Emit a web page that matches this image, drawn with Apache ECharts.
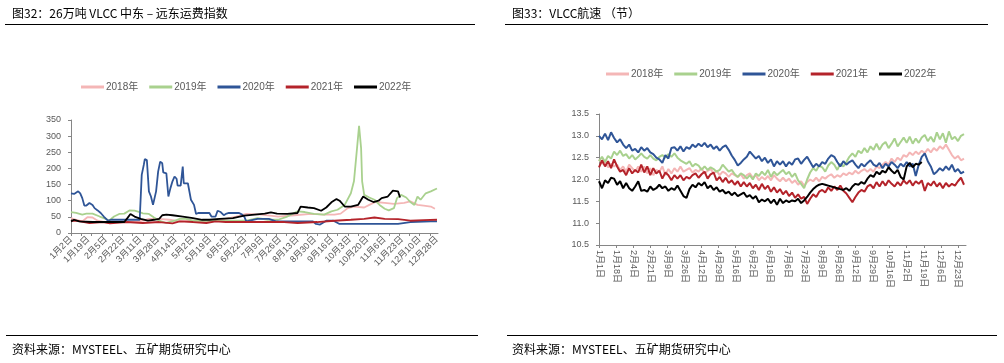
<!DOCTYPE html>
<html><head><meta charset="utf-8">
<script src="https://cdn.jsdelivr.net/npm/echarts/dist/echarts.min.js"></script>
<style>html,body{margin:0;padding:0;background:#fff}#c{width:1004px;height:363px}</style>
</head><body><div id="c"></div>
<script>
const YEARS = ['2018年','2019年','2020年','2021年','2022年'];
const COLORS = ['#F4B6B6','#A9D18E','#2F5597','#B4232A','#000000'];

// Left chart: day-of-year index -> freight index
const freightTickLabels = ['1月2日','1月19日','2月5日','2月22日','3月11日','3月28日','4月14日','5月2日','5月19日','6月5日','6月22日','7月9日','7月26日','8月13日','8月30日','9月16日','10月3日','10月20日','11月6日','11月23日','12月10日','12月28日'];
const freight2018 = [[0,46],[5,41],[11,36],[16,49],[21,48],[26,38],[33,34],[63,34],[70,38],[76,44],[86,44],[96,41],[106,36],[119,38],[128,36],[138,38],[151,44],[161,51],[171,59],[186,57],[202,51],[218,55],[234,59],[247,57],[257,57],[263,60],[270,77],[276,82],[286,79],[291,87],[297,96],[306,93],[315,90],[325,93],[331,98],[338,87],[344,85],[351,82],[355,75]];
const freight2019 = [[0,65],[5,62],[11,57],[15,60],[21,60],[28,51],[34,44],[37,38],[42,51],[47,59],[52,60],[57,70],[62,69],[67,65],[70,61],[76,59],[81,48],[86,38],[93,31],[101,38],[106,44],[112,44],[119,38],[171,38],[182,46],[192,41],[202,41],[211,51],[221,67],[228,65],[237,59],[247,57],[254,67],[260,72],[267,87],[273,123],[276,160],[279,262],[281,332],[283,262],[284,160],[286,118],[291,110],[296,103],[301,87],[306,75],[310,70],[315,77],[318,108],[322,118],[327,110],[331,96],[335,87],[338,113],[341,103],[346,123],[351,129],[357,138]];
const freight2020 = [[0,123],[3,121],[7,129],[9,123],[11,108],[13,85],[15,85],[18,93],[21,87],[23,77],[26,70],[29,62],[32,51],[36,38],[39,41],[50,41],[67,41],[69,180],[71,211],[72,229],[74,226],[76,129],[78,113],[80,87],[83,129],[85,190],[87,221],[89,216],[90,188],[93,185],[95,113],[97,139],[99,160],[101,175],[103,168],[104,147],[107,147],[109,206],[110,154],[114,154],[115,149],[117,103],[120,87],[122,59],[124,62],[135,62],[137,51],[141,51],[143,69],[146,65],[149,55],[151,59],[154,62],[164,62],[167,57],[169,51],[171,36],[172,34],[182,44],[193,44],[200,36],[236,36],[239,28],[243,26],[249,38],[256,38],[262,28],[319,28],[331,34],[351,36],[357,36]];
const freight2021 = [[0,38],[5,38],[18,31],[31,34],[38,30],[54,34],[70,31],[86,34],[99,30],[106,36],[119,34],[132,31],[141,36],[151,34],[171,34],[208,34],[221,31],[240,34],[257,38],[273,41],[286,44],[296,48],[306,44],[319,43],[331,38],[344,40],[357,41]];
const freight2022 = [[0,36],[3,41],[8,36],[21,34],[37,34],[52,34],[55,46],[58,59],[62,51],[68,44],[75,38],[81,41],[86,44],[89,55],[93,57],[99,55],[109,51],[119,46],[128,41],[135,41],[145,44],[158,46],[169,54],[179,57],[189,60],[195,64],[201,60],[211,59],[221,62],[224,82],[231,79],[237,77],[244,69],[249,79],[254,95],[259,105],[262,100],[267,82],[273,82],[280,87],[285,113],[290,103],[295,96],[300,100],[303,108],[309,113],[314,131],[319,129],[321,110]];

// Right chart: VLCC speed (knots), sampled every SPEED_STEP days from 1月1日
const speedTickLabels = ['1月1日','1月18日','2月4日','2月21日','3月9日','3月26日','4月12日','4月29日','5月16日','6月2日','6月19日','7月6日','7月23日','8月9日','8月26日','9月12日','9月29日','10月16日','11月2日','11月19日','12月6日','12月23日'];
const SPEED_STEP = 3;
const speed2018 = [12.46,12.36,12.42,12.28,12.36,12.3,12.34,12.22,12.3,12.18,12.34,12.26,12.18,12.3,12.18,12.3,12.14,12.26,12.1,12.22,12.18,12.3,12.1,12.24,12.14,12.26,12.18,12.3,12.18,12.22,12.26,12.16,12.22,12.18,12.26,12.14,12.2,12.24,12.14,12.2,12.1,12.18,12.14,12.06,12.14,12.1,12.06,12.12,12.02,12.1,12.14,12.04,12.1,11.98,12.06,12.0,12.08,11.98,12.1,12.02,11.96,12.04,11.96,12.02,11.92,11.98,11.88,11.96,11.86,11.94,12.0,11.96,12.04,11.96,12.06,12.02,12.08,12.12,12.04,12.1,12.06,12.14,12.1,12.16,12.12,12.2,12.14,12.2,12.24,12.18,12.24,12.18,12.3,12.26,12.34,12.4,12.34,12.48,12.4,12.5,12.44,12.56,12.52,12.62,12.56,12.64,12.58,12.66,12.6,12.7,12.62,12.72,12.66,12.76,12.7,12.8,12.68,12.56,12.48,12.54,12.44,12.48];
const speed2019 = [12.42,12.52,12.4,12.54,12.48,12.64,12.56,12.66,12.54,12.58,12.48,12.56,12.46,12.52,12.6,12.52,12.48,12.56,12.48,12.44,12.52,12.56,12.5,12.58,12.52,12.6,12.5,12.44,12.4,12.36,12.42,12.3,12.36,12.32,12.22,12.3,12.22,12.28,12.24,12.18,12.22,12.34,12.26,12.18,12.22,12.12,12.06,12.14,12.1,12.02,12.1,12.0,12.14,12.08,12.18,12.1,12.22,12.06,12.18,12.1,12.16,12.22,12.12,12.18,12.06,12.14,11.98,11.9,11.8,12.0,12.16,12.26,12.2,12.32,12.28,12.18,12.32,12.4,12.34,12.22,12.36,12.3,12.4,12.52,12.6,12.52,12.66,12.6,12.72,12.62,12.76,12.68,12.82,12.68,12.8,12.86,12.72,12.82,12.94,12.76,12.86,12.96,12.84,12.98,12.82,12.94,12.84,12.96,13.02,12.88,12.98,12.86,13.08,12.92,13.06,12.84,13.1,12.92,12.98,12.88,13.0,13.04];
const speed2020 = [13.0,12.92,13.05,12.9,13.08,12.95,12.85,12.92,12.8,12.72,12.8,12.66,12.7,12.62,12.74,12.66,12.72,12.62,12.58,12.5,12.46,12.38,12.56,12.48,12.72,12.74,12.66,12.76,12.64,12.74,12.7,12.8,12.74,12.82,12.76,12.84,12.74,12.8,12.7,12.76,12.66,12.74,12.78,12.68,12.55,12.45,12.32,12.38,12.46,12.52,12.64,12.56,12.48,12.54,12.42,12.5,12.38,12.46,12.3,12.42,12.34,12.42,12.3,12.4,12.34,12.46,12.48,12.36,12.45,12.52,12.4,12.28,12.36,12.3,12.4,12.36,12.48,12.56,12.52,12.4,12.3,12.42,12.34,12.4,12.44,12.34,12.26,12.36,12.3,12.38,12.44,12.34,12.3,12.38,12.26,12.36,12.3,12.4,12.34,12.26,12.36,12.3,12.4,12.3,12.36,12.08,12.34,12.52,12.6,12.42,12.3,12.12,12.18,12.26,12.2,12.3,12.22,12.34,12.18,12.24,12.14,12.18];
const speed2021 = [12.28,12.44,12.3,12.42,12.26,12.46,12.3,12.18,12.22,12.1,12.26,12.14,12.22,12.16,12.34,12.16,12.3,12.1,12.26,12.14,12.2,12.02,12.16,12.1,11.98,12.1,12.02,12.1,11.98,12.06,12.02,12.1,12.14,12.04,12.12,12.18,12.02,12.12,12.16,11.98,12.06,11.94,12.04,11.92,11.98,11.88,11.96,11.84,11.94,11.84,11.92,11.8,11.88,11.76,11.9,11.78,11.86,11.72,11.82,11.7,11.78,11.66,11.74,11.62,11.7,11.58,11.66,11.56,11.6,11.44,11.56,11.66,11.6,11.72,11.76,11.7,11.82,11.74,11.84,11.76,11.86,11.74,11.68,11.58,11.48,11.6,11.7,11.76,11.72,11.84,11.88,11.8,11.94,11.84,11.96,11.86,11.98,11.9,11.84,11.94,11.86,11.98,11.9,11.98,11.86,11.96,11.9,11.98,11.74,11.92,11.86,11.96,11.84,11.92,11.8,11.92,11.84,11.9,11.86,11.96,12.04,11.88];
const speed2022 = [11.96,11.8,11.98,11.92,12.04,12.02,11.88,11.96,11.8,11.92,11.8,11.74,11.84,11.96,11.74,11.76,11.72,11.84,11.76,11.8,11.88,11.8,11.84,11.74,11.8,11.76,11.86,11.74,11.62,11.58,11.78,11.88,11.82,11.92,11.86,11.94,11.8,11.86,11.76,11.82,11.72,11.76,11.68,11.72,11.64,11.7,11.62,11.66,11.7,11.6,11.64,11.56,11.62,11.48,11.54,11.5,11.56,11.46,11.54,11.42,11.56,11.46,11.52,11.48,11.52,11.5,11.56,11.46,11.52,11.6,11.7,11.78,11.84,11.88,11.9,11.88,11.86,11.84,11.82,11.8,11.78,11.76,11.8,11.74,11.84,11.9,11.88,11.94,11.9,12.02,12.1,12.06,12.18,12.12,12.2,12.16,12.28,12.2,12.14,12.22,12.06,12.0,12.3,12.38,12.28,12.36,12.34,12.4];

const FONT = "'Liberation Sans','Noto Sans CJK SC',sans-serif";
const CJK = "'Noto Sans CJK SC',sans-serif";
const GREY = '#595959';
const AXIS = '#868686';

const freightSeries = [freight2018, freight2019, freight2020, freight2021, freight2022];
const speedSeries = [speed2018, speed2019, speed2020, speed2021, speed2022];

const freightLabelValues = freightTickLabels.map((_, i) => i * 17);
const freightTickValues = [];
for (let d = 0; d <= 357; d += 10) freightTickValues.push(d);
const speedLabelValues = speedTickLabels.map((_, i) => i * 17);

const chart = echarts.init(document.getElementById('c'), null, {renderer: 'canvas'});

function legendFor(top, left) {
  return {
    top: top, left: left, orient: 'horizontal',
    icon: 'rect', itemWidth: 23, itemHeight: 3, itemGap: 11,
    textStyle: {color: GREY, fontSize: 10, fontFamily: FONT, padding: [0,0,0,-3]},
    data: YEARS
  };
}

const option = {
  animation: false,
  backgroundColor: '#ffffff',
  legend: [legendFor(77, 76), legendFor(64, 601)],
  grid: [
    {left: 71, top: 120, width: 367, height: 113, containLabel: false},
    {left: 599, top: 114, width: 367, height: 131, containLabel: false}
  ],
  xAxis: [
    {
      type: 'value', gridIndex: 0, min: 0, max: 358,
      splitLine: {show: false},
      axisLine: {show: true, lineStyle: {color: AXIS, width: 1}},
      axisTick: {show: true, length: 3, lineStyle: {color: AXIS}, customValues: freightTickValues},
      axisLabel: {
        customValues: freightLabelValues, rotate: 45, fontSize: 9, color: GREY, fontFamily: FONT, margin: 5,
        formatter: v => freightTickLabels[Math.round(v / 17)] || ''
      }
    },
    {
      type: 'value', gridIndex: 1, min: 0, max: 365,
      splitLine: {show: false},
      axisLine: {show: true, lineStyle: {color: AXIS, width: 1}},
      axisTick: {show: true, length: 3, lineStyle: {color: AXIS}, customValues: speedLabelValues},
      axisLabel: {
        customValues: speedLabelValues, rotate: -90, fontSize: 9, color: GREY, fontFamily: FONT, margin: 5,
        formatter: v => speedTickLabels[Math.round(v / 17)] || ''
      }
    }
  ],
  yAxis: [
    {
      type: 'value', gridIndex: 0, min: 0, max: 350, interval: 50,
      splitLine: {show: false},
      axisLine: {show: true, lineStyle: {color: AXIS, width: 1}},
      axisTick: {show: true, length: 3, lineStyle: {color: AXIS}},
      axisLabel: {fontSize: 9, color: GREY, fontFamily: FONT, margin: 10}
    },
    {
      type: 'value', gridIndex: 1, min: 10.5, max: 13.5, interval: 0.5,
      splitLine: {show: false},
      axisLine: {show: true, lineStyle: {color: AXIS, width: 1}},
      axisTick: {show: true, length: 3, lineStyle: {color: AXIS}},
      axisLabel: {fontSize: 9, color: GREY, fontFamily: FONT, margin: 10, formatter: v => v.toFixed(1)}
    }
  ],
  series: [
    ...freightSeries.map((d, i) => ({
      name: YEARS[i], type: 'line', xAxisIndex: 0, yAxisIndex: 0,
      data: d, showSymbol: false, symbol: 'none',
      lineStyle: {color: COLORS[i], width: 1.8}, itemStyle: {color: COLORS[i]}
    })),
    ...speedSeries.map((d, i) => ({
      name: YEARS[i], type: 'line', xAxisIndex: 1, yAxisIndex: 1,
      data: d.map((v, k) => [k * SPEED_STEP, v]), showSymbol: false, symbol: 'none',
      lineStyle: {color: COLORS[i], width: 2}, itemStyle: {color: COLORS[i]}
    }))
  ],
  graphic: [
    {type: 'text', left: 12, top: 7, style: {text: '图32：26万吨 VLCC 中东 – 远东运费指数', font: '12px ' + CJK, fill: '#000'}},
    {type: 'text', left: 512, top: 7, style: {text: '图33：VLCC航速 （节）', font: '12px ' + CJK, fill: '#000'}},
    {type: 'line', shape: {x1: 5, y1: 24.5, x2: 475, y2: 24.5}, style: {stroke: '#000', lineWidth: 1.2}},
    {type: 'line', shape: {x1: 505, y1: 24.5, x2: 988, y2: 24.5}, style: {stroke: '#000', lineWidth: 1.2}},
    {type: 'line', shape: {x1: 6, y1: 335.5, x2: 478, y2: 335.5}, style: {stroke: '#000', lineWidth: 1.2}},
    {type: 'line', shape: {x1: 507, y1: 335.5, x2: 997, y2: 335.5}, style: {stroke: '#000', lineWidth: 1.2}},
    {type: 'text', left: 12, top: 343, style: {text: '资料来源：MYSTEEL、五矿期货研究中心', font: '12px ' + CJK, fill: '#000'}},
    {type: 'text', left: 512, top: 343, style: {text: '资料来源：MYSTEEL、五矿期货研究中心', font: '12px ' + CJK, fill: '#000'}}
  ]
};
chart.setOption(option);
</script>
</body></html>
